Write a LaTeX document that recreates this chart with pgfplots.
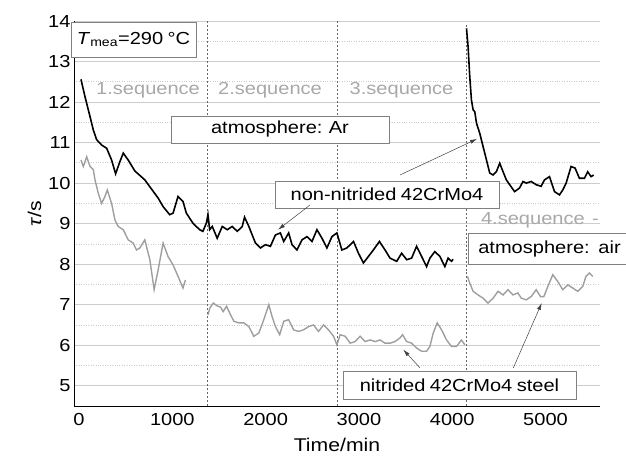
\documentclass[border=0pt]{standalone}
\usepackage{fontspec}
\setmainfont{Liberation Sans}[FakeStretch=1.15, WordSpace=0.8]
\usepackage{pgfplots}
\pgfplotsset{compat=1.18}
\usetikzlibrary{arrows.meta}

\definecolor{seqgray}{HTML}{A8A8A8}
\definecolor{nitgray}{HTML}{9E9E9E}
\definecolor{boxedge}{HTML}{808080}

\begin{document}
\begin{tikzpicture}
\useasboundingbox (-74bp,-54bp) rectangle (552bp,406bp);
\begin{axis}[
    scale only axis,
    width=526bp, height=385bp,
    xmin=-54, xmax=5584,
    ymin=4.5, ymax=14,
    axis x line*=bottom, axis y line*=left,
    axis line style={black, line width=1pt, -},
    xtick={0,1000,...,5000},
    ytick={5,...,14},
    minor y tick num=1,
    ymajorgrids, yminorgrids,
    major grid style={black!20, line width=0.9pt},
    minor grid style={black!20, dotted, line width=0.7pt},
    major tick length=0pt, minor tick length=0pt,
    /pgf/number format/assume math mode=true,
    /pgf/number format/1000 sep={},
    scaled x ticks=false,
    tick label style={font=\fontsize{17.5}{20}\selectfont},
    xticklabel style={yshift=-4bp},
    xlabel={Time/min},
    ylabel={\textit{τ}/s},
    xlabel style={yshift=-5bp},
    label style={font=\fontsize{18.5}{22}\selectfont},
    clip=false,
]

% sequence borders
\draw[black!60, line width=0.6pt, dash pattern=on 2pt off 2pt] (axis cs:1380,4.5) -- (axis cs:1380,14);
\draw[black!60, line width=0.6pt, dash pattern=on 2pt off 2pt] (axis cs:2770,4.5) -- (axis cs:2770,14);
\draw[black!60, line width=0.6pt, dash pattern=on 2pt off 2pt] (axis cs:4150,4.5) -- (axis cs:4150,13.9);

% nitrided 42CrMo4 steel
\addplot[nitgray, line width=1.4pt, mark=none] coordinates {
    (21,10.57) (46,10.41) (82,10.65) (118,10.41) (153,10.33) (171,10.08)
    (206,9.75) (242,9.50) (278,9.67) (303,9.83) (349,9.50) (385,9.09)
    (420,8.93) (474,8.85) (527,8.60) (580,8.52) (616,8.35) (652,8.40)
    (705,8.60) (759,8.11) (805,7.37) (848,7.86) (901,8.52) (954,8.19)
    (1008,7.98) (1061,7.70) (1114,7.41) (1140,7.61)
};
\addplot[nitgray, line width=1.4pt, mark=none] coordinates {
    (1382,6.75) (1403,6.92) (1439,7.04) (1481,6.97) (1517,6.94) (1545,6.83)
    (1581,6.96) (1624,6.75) (1660,6.59) (1713,6.55) (1767,6.55) (1820,6.46)
    (1873,6.22) (1927,6.30) (1980,6.63) (2034,7.00) (2069,6.71) (2105,6.46)
    (2151,6.26) (2194,6.59) (2247,6.63) (2300,6.38) (2354,6.34) (2407,6.38)
    (2461,6.46) (2514,6.50) (2567,6.34) (2621,6.50) (2674,6.38) (2728,6.22)
    (2764,6.01) (2799,6.26) (2853,6.22) (2906,6.05) (2959,6.09) (3013,6.22)
    (3066,6.09) (3120,6.13) (3173,6.09) (3226,6.13) (3280,6.05) (3333,6.05)
    (3387,6.09) (3440,6.18) (3468,6.26) (3512,6.09) (3565,6.05) (3618,5.93)
    (3672,5.85) (3725,5.85) (3761,5.97) (3796,6.30) (3839,6.55) (3886,6.38)
    (3939,6.13) (3992,5.97) (4046,5.97) (4099,6.13) (4135,6.01)
};
\addplot[nitgray, line width=1.4pt, mark=none] coordinates {
    (4163,7.70) (4188,7.53) (4224,7.33) (4277,7.24) (4331,7.16) (4384,7.04)
    (4438,7.16) (4491,7.33) (4545,7.24) (4598,7.37) (4651,7.24) (4704,7.29)
    (4740,7.16) (4794,7.12) (4847,7.20) (4900,7.37) (4946,7.20) (4982,7.20)
    (5025,7.45) (5078,7.74) (5132,7.57) (5185,7.37) (5239,7.49) (5292,7.41)
    (5345,7.33) (5399,7.45) (5434,7.70) (5470,7.78) (5506,7.70)
};

% non-nitrided 42CrMo4
\addplot[black, line width=1.6pt, mark=none] coordinates {
    (21,12.56) (64,12.13) (118,11.64) (153,11.31) (189,11.07) (242,10.94)
    (296,10.86) (349,10.57) (392,10.23) (438,10.53) (474,10.74) (527,10.57)
    (598,10.30) (705,10.08) (794,9.80) (848,9.63) (901,9.42) (972,9.22)
    (1008,9.26) (1061,9.67) (1114,9.55) (1150,9.26) (1221,9.01) (1293,8.85)
    (1328,8.81) (1364,9.01) (1382,9.22) (1400,8.85) (1428,8.93) (1481,8.64)
    (1535,8.93) (1589,8.85) (1642,8.93) (1696,8.81) (1749,8.93) (1774,9.16)
    (1820,8.93) (1891,8.52) (1944,8.40) (1998,8.48) (2051,8.44) (2105,8.72)
    (2158,8.77) (2194,8.56) (2247,8.77) (2283,8.48) (2336,8.35) (2390,8.60)
    (2443,8.68) (2497,8.56) (2550,8.85) (2604,8.64) (2657,8.40) (2711,8.68)
    (2764,8.77) (2817,8.35) (2871,8.40) (2942,8.56) (2995,8.27) (3048,8.03)
    (3102,8.19) (3155,8.35) (3220,8.56) (3280,8.35) (3333,8.15) (3405,8.07)
    (3458,8.27) (3512,8.11) (3565,8.15) (3618,8.44) (3672,8.19) (3725,7.94)
    (3761,8.15) (3814,8.31) (3868,8.19) (3921,7.94) (3956,8.15) (3992,8.07)
    (4010,8.12)
};
\addplot[black, line width=1.6pt, mark=none] coordinates {
    (4153,13.82) (4170,13.37) (4188,12.63) (4206,12.05) (4224,11.81) (4242,11.76)
    (4260,11.48) (4295,11.23) (4331,10.90) (4367,10.57) (4402,10.25) (4438,10.20)
    (4473,10.28) (4509,10.49) (4545,10.28) (4580,10.08) (4616,9.96) (4669,9.79)
    (4722,9.88) (4758,10.04) (4794,10.00) (4847,10.04) (4900,9.96) (4953,9.92)
    (4989,10.08) (5043,10.16) (5096,9.79) (5150,9.71) (5185,9.83) (5221,10.00)
    (5274,10.41) (5317,10.37) (5363,10.12) (5417,10.12) (5452,10.28) (5488,10.16)
    (5516,10.20)
};

% sequence labels
\tikzset{seq/.style={text=seqgray, font=\fontsize{17.5}{20}\selectfont, inner sep=0pt}}
\node[seq] at (axis cs:740,12.30) {1.sequence};
\node[seq] at (axis cs:2047,12.30) {2.sequence};
\node[seq] at (axis cs:3457,12.30) {3.sequence};
\node[seq] at (axis cs:4940,9.09) {4.sequence \,-};

% boxed annotations
\tikzset{lbl/.style={draw=boxedge, line width=0.6pt, fill=white, font=\fontsize{17.5}{20}\selectfont,
    inner xsep=6pt, inner ysep=5pt}}
\node[lbl, minimum width=115bp, minimum height=35bp] at (axis cs:584,13.54) {\textit{T}\textsubscript{mea}=290 °C};
\node[lbl, minimum width=218bp, minimum height=27bp] at (axis cs:2154,11.325) {atmosphere: Ar};
\node[lbl, minimum width=224bp, minimum height=27bp] at (axis cs:3301,9.72) {non-nitrided 42CrMo4};
\node[lbl, anchor=west, minimum width=170bp, minimum height=31bp, text width=150bp, align=left] at (axis cs:4169,8.38) {atmosphere: air};
\node[lbl, minimum width=233bp, minimum height=28bp] at (axis cs:4078,5.0) {nitrided 42CrMo4 steel};

% arrows
\tikzset{arr/.style={black!75, line width=0.5pt, -{Latex[length=7pt, width=4pt]}}}
\draw[arr] (axis cs:3440,10.20) -- (axis cs:4266,11.09);
\draw[arr] (axis cs:2476,9.46) -- (axis cs:2133,8.85);
\draw[arr] (axis cs:3655,5.44) -- (axis cs:3476,5.89);
\draw[arr] (axis cs:4655,5.44) -- (axis cs:4959,7.04);
\end{axis}
\end{tikzpicture}
\end{document}
